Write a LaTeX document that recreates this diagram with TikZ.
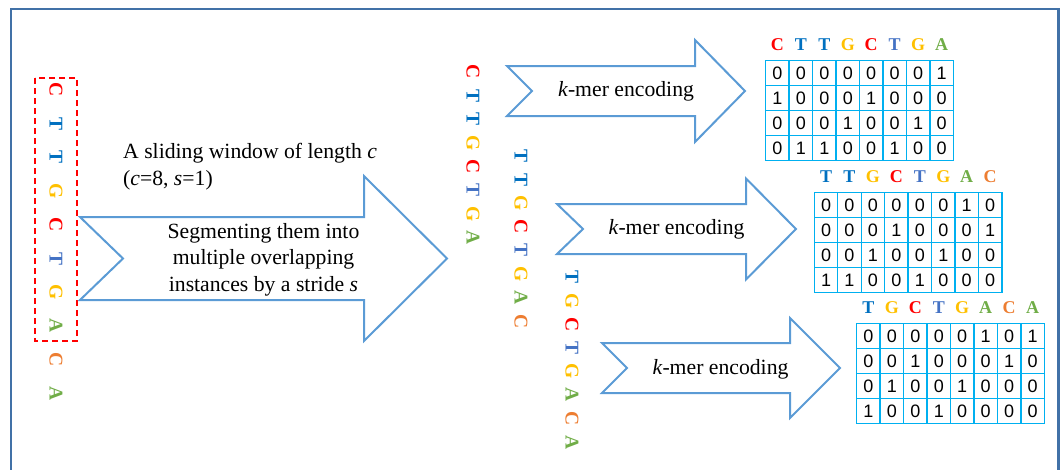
\documentclass[tikz,border=0pt]{standalone}
\usepackage{fontspec}
\setmainfont{Liberation Serif}
\newfontfamily\digitfont{Liberation Sans}

\definecolor{frameblue}{RGB}{65,113,167}
\definecolor{arrowblue}{RGB}{91,155,213}
\definecolor{gridblue}{RGB}{0,176,240}
\definecolor{baseC}{RGB}{255,0,0}
\definecolor{baseT}{RGB}{0,112,192}
\definecolor{baseTb}{RGB}{68,114,196}
\definecolor{baseG}{RGB}{255,192,0}
\definecolor{baseA}{RGB}{112,173,71}
\definecolor{baseCo}{RGB}{237,125,49}

% notched block arrow: name, left x, centre y, shaft half-height,
% notch x, head base x, head half-height, tip x
\newcommand\notchedarrow[8]{%
  \draw[arrowline] (#2,#3-#4) -- (#6,#3-#4) -- (#6,#3-#7) -- (#8,#3)
    -- (#6,#3+#7) -- (#6,#3+#4) -- (#2,#3+#4) -- (#5,#3) -- cycle;
  \coordinate (#1) at (#8,#3);}

% vertical base sequence: name, x, first y, step, list of letter/colour
\newcommand\basecolumn[5]{%
  \foreach \lt/\co [count=\i] in {#5}
    \node[vbase,text=\co] (#1-\i) at (#2,{#3+(\i-1)*#4}) {\lt};}

% one-hot table: name, left x, top y, header letter/colour list, rows
\newcommand\kmertable[5]{%
  \begin{scope}[shift={(#2,#3)}]
    \foreach \lt/\co [count=\c] in {#4}
      \node[hbase,text=\co] (#1-h\c) at ({(\c-0.5)*23.45},-16) {\lt};
    \foreach \row [count=\r] in {#5}
      \foreach \v [count=\c] in \row
        \node[bitcell] (#1-\r-\c) at ({(\c-0.5)*23.45},{(\r-0.5)*25.05}) {\v};
  \end{scope}}

\begin{document}
\begin{tikzpicture}[x=1pt,y=-1pt,
  arrowline/.style={draw=arrowblue,line width=2pt,line join=miter},
  vbase/.style={font=\fontsize{19.5}{19.5}\selectfont\bfseries,rotate=-90,inner sep=0pt},
  hbase/.style={font=\fontsize{18}{18}\selectfont\bfseries,inner sep=0pt},
  bitcell/.style={draw=gridblue,line width=1.4pt,minimum width=23.45pt,
    minimum height=25.05pt,inner sep=0pt,font=\digitfont\fontsize{18}{18}\selectfont},
  label/.style={font=\fontsize{21.7}{26.6}\selectfont,inner sep=0pt},
  window/.style={draw=baseC,line width=1.5pt,dash pattern=on 6pt off 4pt}]
\useasboundingbox (0,0) rectangle (1060,469);

% outer frame (open at the bottom)
\draw[frameblue,line width=2.2pt] (11,475) -- (11,9) -- (1058.5,9) -- (1058.5,475);

% full input sequence with the sliding window
\basecolumn{seq}{56}{90}{33.7}{C/baseC,T/baseT,T/baseT,G/baseG,C/baseC,T/baseTb,G/baseG,A/baseA,C/baseCo,A/baseA}
\draw[window] (35,78) rectangle (77,341);

% segmentation arrow
\notchedarrow{seg}{80}{258.5}{41.5}{123}{364}{82.5}{447}
\node[label,anchor=west,align=left] (win) at (123,166.5)
  {A sliding window of length \textit{c}\\(\textit{c}=8, \textit{s}=1)};
\node[label,align=center] (segtext) at (263.5,259.7)
  {Segmenting them into\\multiple overlapping\\instances by a stride \textit{s}};

% the three overlapping instances
\basecolumn{w1}{473}{72}{23.6}{C/baseC,T/baseT,T/baseT,G/baseG,C/baseC,T/baseTb,G/baseG,A/baseA}
\basecolumn{w2}{521}{156}{23.6}{T/baseT,T/baseT,G/baseG,C/baseC,T/baseTb,G/baseG,A/baseA,C/baseCo}
\basecolumn{w3}{572}{277}{23.6}{T/baseT,G/baseG,C/baseC,T/baseTb,G/baseG,A/baseA,C/baseCo,A/baseA}

% k-mer encoding arrows
\notchedarrow{enc1}{507}{91}{25}{532}{695}{51}{745}
\node[label] (enc1text) at (626,91) {\textit{k}-mer encoding};
\notchedarrow{enc2}{557}{229}{25}{583}{746}{50.5}{796}
\node[label] (enc2text) at (676.5,229) {\textit{k}-mer encoding};
\notchedarrow{enc3}{602}{368}{25}{627}{790}{50}{840}
\node[label] (enc3text) at (720.5,369) {\textit{k}-mer encoding};

% one-hot encoded tables
\kmertable{t1}{765.7}{60.3}
  {C/baseC,T/baseT,T/baseT,G/baseG,C/baseC,T/baseTb,G/baseG,A/baseA}
  {{0,0,0,0,0,0,0,1},{1,0,0,0,1,0,0,0},{0,0,0,1,0,0,1,0},{0,1,1,0,0,1,0,0}}
\kmertable{t2}{814.3}{192.3}
  {T/baseT,T/baseT,G/baseG,C/baseC,T/baseTb,G/baseG,A/baseA,C/baseCo}
  {{0,0,0,0,0,0,1,0},{0,0,0,1,0,0,0,1},{0,0,1,0,0,1,0,0},{1,1,0,0,1,0,0,0}}
\kmertable{t3}{856.7}{323.3}
  {T/baseT,G/baseG,C/baseC,T/baseTb,G/baseG,A/baseA,C/baseCo,A/baseA}
  {{0,0,0,0,0,1,0,1},{0,0,1,0,0,0,1,0},{0,1,0,0,1,0,0,0},{1,0,0,1,0,0,0,0}}
\end{tikzpicture}
\end{document}
